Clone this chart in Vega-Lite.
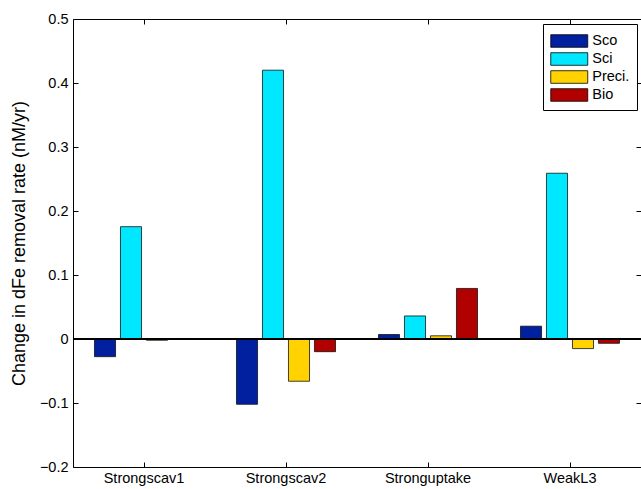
{
  "$schema": "https://vega.github.io/schema/vega-lite/v6.json",
  "width": 568,
  "height": 448,
  "autosize": {"type": "none"},
  "padding": {"left": 73, "top": 19, "right": 0, "bottom": 22},
  "background": "white",
  "config": {
    "view": {"stroke": null},
    "font": "Liberation Sans",
    "axis": {
      "domainColor": "black",
      "tickColor": "black",
      "domainWidth": 1,
      "tickWidth": 1,
      "tickSize": -5,
      "grid": false,
      "labelFont": "Liberation Sans",
      "labelFontSize": 14.5,
      "labelFontWeight": "normal",
      "labelColor": "black",
      "titleFont": "Liberation Sans",
      "titleFontSize": 18,
      "titleFontWeight": "normal",
      "titleColor": "black"
    }
  },
  "data": {
    "values": [
      {"scenario": "Strongscav1", "var": "Sco", "value": -0.0276},
      {"scenario": "Strongscav1", "var": "Sci", "value": 0.1755},
      {"scenario": "Strongscav1", "var": "Preci.", "value": -0.002},
      {"scenario": "Strongscav1", "var": "Bio", "value": 0.0008},
      {"scenario": "Strongscav2", "var": "Sco", "value": -0.102},
      {"scenario": "Strongscav2", "var": "Sci", "value": 0.42},
      {"scenario": "Strongscav2", "var": "Preci.", "value": -0.066},
      {"scenario": "Strongscav2", "var": "Bio", "value": -0.0198},
      {"scenario": "Stronguptake", "var": "Sco", "value": 0.007},
      {"scenario": "Stronguptake", "var": "Sci", "value": 0.036},
      {"scenario": "Stronguptake", "var": "Preci.", "value": 0.005},
      {"scenario": "Stronguptake", "var": "Bio", "value": 0.079},
      {"scenario": "WeakL3", "var": "Sco", "value": 0.02},
      {"scenario": "WeakL3", "var": "Sci", "value": 0.259},
      {"scenario": "WeakL3", "var": "Preci.", "value": -0.015},
      {"scenario": "WeakL3", "var": "Bio", "value": -0.0067}
    ]
  },
  "resolve": {"axis": {"x": "independent", "y": "independent"}},
  "layer": [
    {
      "mark": {"type": "bar", "stroke": "#111", "strokeWidth": 0.8},
      "encoding": {
        "x": {
          "field": "scenario", "type": "nominal",
          "sort": ["Strongscav1", "Strongscav2", "Stronguptake", "WeakL3"],
          "scale": {"paddingInner": 0, "paddingOuter": 0},
          "axis": {"orient": "bottom", "title": null, "labelAngle": 0, "labelPadding": 9}
        },
        "xOffset": {
          "field": "var", "type": "nominal",
          "sort": ["Sco", "Sci", "Preci.", "Bio"],
          "scale": {"paddingInner": 0.19, "paddingOuter": 0.827}
        },
        "y": {
          "field": "value", "type": "quantitative",
          "scale": {"domain": [-0.2, 0.5], "nice": false, "zero": false},
          "axis": {"orient": "left", "title": "Change in dFe removal rate (nM/yr)", "values": [-0.2, -0.1, 0, 0.1, 0.2, 0.3, 0.4, 0.5], "format": ".1~f", "labelPadding": 10, "titlePadding": 11}
        },
        "color": {
          "field": "var", "type": "nominal",
          "scale": {"domain": ["Sco", "Sci", "Preci.", "Bio"], "range": ["#0020A0", "#00E8FF", "#FFD200", "#B00000"]},
          "legend": {
            "orient": "none", "legendX": 470, "legendY": 5,
            "title": null,
            "strokeColor": "black", "fillColor": "white", "padding": 7,
            "symbolType": "M-2,-0.68H2V0.68H-2Z", "symbolSize": 342,
            "symbolOffset": 9.25,
            "symbolStrokeColor": "black", "symbolStrokeWidth": 0.8, "symbolOpacity": 1,
            "labelFont": "Liberation Sans", "labelFontSize": 14.5, "labelColor": "black",
            "labelOffset": 13, "rowPadding": 0
          }
        }
      }
    },
    {
      "mark": {"type": "bar", "opacity": 0},
      "encoding": {
        "x": {
          "field": "scenario", "type": "nominal",
          "sort": ["Strongscav1", "Strongscav2", "Stronguptake", "WeakL3"],
          "axis": {"orient": "top", "title": null, "labels": false}
        },
        "y": {
          "field": "value", "type": "quantitative",
          "axis": {"orient": "right", "title": null, "labels": false, "values": [-0.2, -0.1, 0, 0.1, 0.2, 0.3, 0.4, 0.5]}
        }
      }
    },
    {
      "mark": {"type": "rule", "color": "black", "strokeWidth": 1},
      "encoding": {"y": {"datum": 0, "axis": null}}
    }
  ]
}
